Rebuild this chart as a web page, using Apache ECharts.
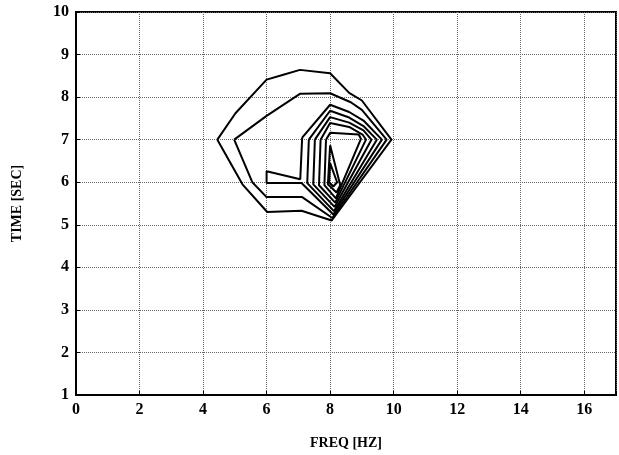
<!DOCTYPE html>
<html>
<head>
<meta charset="utf-8">
<script src="https://cdn.jsdelivr.net/npm/echarts@6/dist/echarts.min.js"></script>
<style>
  html, body { margin: 0; padding: 0; background: #fff; }
  #chart { width: 619px; height: 455px; }
</style>
</head>
<body>
<div id="chart"></div>
<script>
// contour lines, [freq, time]
const c1 = [[4.45, 7.0], [5.02, 7.62], [6.0, 8.41], [6.5, 8.52], [7.05, 8.64], [8.0, 8.56], [8.6, 8.1], [9.0, 7.92], [9.93, 7.0], [8.05, 5.1], [7.1, 5.33], [6.02, 5.3], [5.24, 5.95], [4.45, 7.0]];
const c2 = [[4.98, 7.0], [6.0, 7.56], [7.06, 8.08], [8.0, 8.09], [8.65, 7.88], [9.0, 7.7], [9.78, 7.0], [8.07, 5.16], [7.12, 5.65], [6.0, 5.65], [5.55, 6.0], [4.98, 7.0]];
const c3 = [[7.12, 7.05], [8.0, 7.82], [8.6, 7.65], [9.05, 7.45], [9.63, 7.0], [8.1, 5.24], [7.1, 5.98], [6.0, 5.98], [6.0, 6.26], [7.06, 6.07], [7.12, 7.05]];
const c4 = [[7.33, 7.0], [8.0, 7.68], [8.6, 7.52], [9.05, 7.32], [9.47, 7.0], [8.12, 5.32], [7.28, 5.98], [7.33, 7.0]];
const c5 = [[7.52, 7.0], [8.0, 7.53], [8.6, 7.4], [9.05, 7.22], [9.3, 7.0], [8.14, 5.42], [7.47, 5.95], [7.52, 7.0]];
const c6 = [[7.7, 7.0], [8.0, 7.39], [8.6, 7.3], [9.02, 7.12], [9.13, 7.0], [8.16, 5.52], [7.65, 5.93], [7.7, 7.0]];
const c7 = [[7.87, 7.0], [8.0, 7.16], [8.9, 7.12], [8.97, 7.02], [8.18, 5.62], [7.82, 5.93], [7.87, 7.0]];
const c8 = [[8.0, 6.87], [8.32, 5.93], [8.2, 5.76], [7.93, 5.95], [8.0, 6.87]];
const c9 = [[8.0, 6.45], [8.22, 6.0], [8.1, 5.9], [7.97, 6.0], [8.0, 6.45]];
const contours = [c1, c2, c3, c4, c5, c6, c7, c8, c9];

const xTicks = [0, 2, 4, 6, 8, 10, 12, 14, 16];
const yTicks = [1, 2, 3, 4, 5, 6, 7, 8, 9, 10];

const chart = echarts.init(document.getElementById("chart"));

const font = "'Liberation Serif', 'DejaVu Serif', serif";

const options = {
  animation: false,
  grid: {
    left: 76,
    top: 12,
    right: 3,
    bottom: 59,
    show: true,
    borderColor: "#000",
    borderWidth: 2,
  },
  xAxis: {
    type: "value",
    min: 0,
    max: 17,
    interval: 2,
    name: "FREQ [HZ]",
    nameLocation: "middle",
    nameGap: 41,
    nameTextStyle: { fontFamily: font, fontWeight: "bold", fontSize: 14, color: "#000" },
    axisLine: { show: true, lineStyle: { color: "#000", width: 2 } },
    axisTick: { show: true, inside: true, length: 4, lineStyle: { color: "#000" } },
    axisLabel: {
      margin: 7,
      fontFamily: font,
      fontWeight: "bold",
      fontSize: 16,
      color: "#000",
      formatter: (v) => (xTicks.includes(v) ? String(v) : ""),
    },
    splitLine: { show: true, lineStyle: { color: "#666", type: "dotted", width: 1 } },
  },
  yAxis: {
    type: "value",
    min: 1,
    max: 10,
    interval: 1,
    name: "TIME [SEC]",
    nameLocation: "middle",
    nameGap: 52,
    nameTextStyle: { fontFamily: font, fontWeight: "bold", fontSize: 14, color: "#000" },
    axisLine: { show: true, lineStyle: { color: "#000", width: 2 } },
    axisTick: { show: true, inside: true, length: 4, lineStyle: { color: "#000" } },
    axisLabel: {
      margin: 7,
      fontFamily: font,
      fontWeight: "bold",
      fontSize: 16,
      color: "#000",
      formatter: (v) => (yTicks.includes(v) ? String(v) : ""),
    },
    splitLine: { show: true, lineStyle: { color: "#666", type: "dotted", width: 1 } },
  },
  series: contours.map((c) => ({
    type: "line",
    data: c,
    showSymbol: false,
    lineStyle: { color: "#000", width: 2 },
    z: 3,
  })),
};

chart.setOption(options);
</script>
</body>
</html>
